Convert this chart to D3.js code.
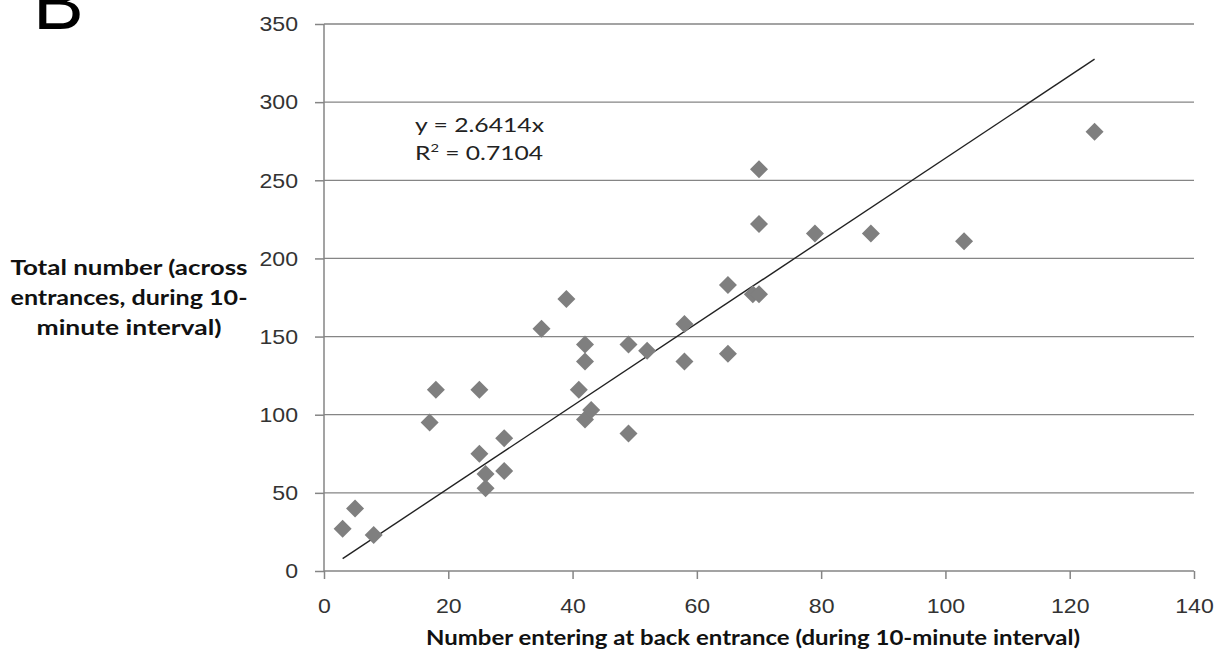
<!DOCTYPE html>
<html lang="en">
<head>
    <meta charset="UTF-8">
    <title>Back entrance vs total</title>
    <script src="https://cdn.jsdelivr.net/npm/d3@7/dist/d3.min.js"></script>
    <style type="text/css">
        body { margin: 0; background: #fff; }
        svg { display: block; font-family: Lato, "Open Sans", sans-serif; }
        .tick text { font-size: 21px; fill: #333; }
        .axis-title { font-size: 21px; font-weight: bold; fill: #111; }
        .eq { font-size: 20px; fill: #222; }
    </style>
</head>
<body>
    <div id="diagram"></div>
    <script type="text/javascript">
        // number entering at back entrance
        var backEntrance = [3, 5, 8, 17, 18, 25, 25, 26, 26, 29, 29, 35, 39, 41, 42, 42, 42, 43,
                            49, 49, 52, 58, 58, 65, 65, 69, 70, 70, 70, 79, 88, 103, 124];
        // total number across entrances
        var totalNumber = [27, 40, 23, 95, 116, 116, 75, 62, 53, 85, 64, 155, 174, 116, 145, 134, 97, 103,
                           145, 88, 141, 158, 134, 183, 139, 177, 177, 222, 257, 216, 216, 211, 281];
        var xTicks = [0, 20, 40, 60, 80, 100, 120, 140];
        var yTicks = [0, 50, 100, 150, 200, 250, 300, 350];
        var slope = 2.6414;
        var eqLines = ["y = 2.6414x", "R\u00b2 = 0.7104"];

        var W = 1221, H = 662;
        var margin = {top: 24, right: 27, bottom: 91, left: 324};
        var chart_width = W - margin.left - margin.right;
        var chart_height = H - margin.top - margin.bottom;

        // the original picture is a bit wide, so text gets stretched sideways
        function stretch(sel, k) {
            sel.each(function () {
                var w = this.getComputedTextLength();
                d3.select(this).attr("textLength", w * k).attr("lengthAdjust", "spacingAndGlyphs");
            });
        }
        function fitTo(sel, w) {
            sel.attr("textLength", w).attr("lengthAdjust", "spacingAndGlyphs");
        }

        var svg = d3.select("#diagram").append("svg")
            .attr("width", W)
            .attr("height", H);

        var diagram = svg.append("g")
            .attr("transform", "translate(" + margin.left + "," + margin.top + ")");

        var x = d3.scaleLinear().domain([0, 140]).range([0, chart_width]);
        var y = d3.scaleLinear().domain([0, 350]).range([chart_height, 0]);

        // horizontal grid
        diagram.append("g")
            .selectAll("line")
            .data(yTicks.slice(1))
            .enter()
            .append("line")
            .attr("x1", 0)
            .attr("x2", chart_width)
            .attr("y1", function (d) { return y(d); })
            .attr("y2", function (d) { return y(d); })
            .attr("stroke", "#858585")
            .attr("stroke-width", 1.3);

        var xAxis = diagram.append("g")
            .attr("transform", "translate(0," + chart_height + ")")
            .call(d3.axisBottom(x).tickValues(xTicks).tickSize(8).tickPadding(19));
        var yAxis = diagram.append("g")
            .call(d3.axisLeft(y).tickValues(yTicks).tickSize(9).tickPadding(17));

        [xAxis, yAxis].forEach(function (a) {
            a.select(".domain").attr("stroke", "#858585").attr("stroke-width", 1.5);
            a.selectAll(".tick line").attr("stroke", "#858585").attr("stroke-width", 1.5);
            a.selectAll(".tick text").attr("font-family", null).attr("font-size", null);
            stretch(a.selectAll(".tick text"), 1.1);
        });
        yAxis.select(".domain").attr("d", "M0," + (chart_height) + "V0");
        xAxis.select(".domain").attr("d", "M0,0H" + chart_width);

        // trend line (through origin), from min to max x
        var xMin = d3.min(backEntrance), xMax = d3.max(backEntrance);
        diagram.append("line")
            .attr("x1", x(xMin))
            .attr("y1", y(slope * xMin))
            .attr("x2", x(xMax))
            .attr("y2", y(slope * xMax))
            .attr("stroke", "#222")
            .attr("stroke-width", 1.4);

        // points
        var pts = backEntrance.map(function (d, i) { return {x: d, y: totalNumber[i]}; });
        diagram.selectAll(".pt")
            .data(pts)
            .enter()
            .append("path")
            .attr("class", "pt")
            .attr("d", "M0,-9L9,0L0,9L-9,0Z")
            .attr("fill", "#7f7f7f")
            .attr("transform", function (d) {
                return "translate(" + x(d.x) + "," + y(d.y) + ")";
            });

        // equation
        var eq1 = diagram.append("text")
            .attr("class", "eq")
            .attr("x", 91)
            .attr("y", 108)
            .text(eqLines[0]);
        fitTo(eq1, 129);
        var r2 = diagram.append("text")
            .attr("class", "eq")
            .attr("x", 91)
            .attr("y", 136);
        r2.append("tspan").text("R");
        r2.append("tspan").attr("dy", -8).attr("font-size", "12px").text("2");
        r2.append("tspan").attr("dy", 8).text(eqLines[1].slice(2));
        fitTo(r2, 128);

        // axis titles
        var xt = svg.append("text")
            .attr("class", "axis-title")
            .attr("x", margin.left + chart_width / 2 - 6)
            .attr("y", 645)
            .attr("text-anchor", "middle")
            .text("Number entering at back entrance (during 10-minute interval)");
        fitTo(xt, 654);

        var yTitle = ["Total number (across", "entrances, during 10-", "minute interval)"];
        var yWidths = [237, 237, 185];
        yTitle.forEach(function (t, i) {
            var tt = svg.append("text")
                .attr("class", "axis-title")
                .attr("text-anchor", "middle")
                .attr("x", 129)
                .attr("y", 275 + i * 30)
                .text(t);
            fitTo(tt, yWidths[i]);
        });

        // panel letter, cut off at the top like in the source figure
        svg.append("text")
            .attr("x", 33)
            .attr("y", 29)
            .attr("font-family", "'Liberation Sans', Arial, sans-serif")
            .attr("font-size", "76px")
            .attr("fill", "#000")
            .text("B");
    </script>
</body>
</html>
